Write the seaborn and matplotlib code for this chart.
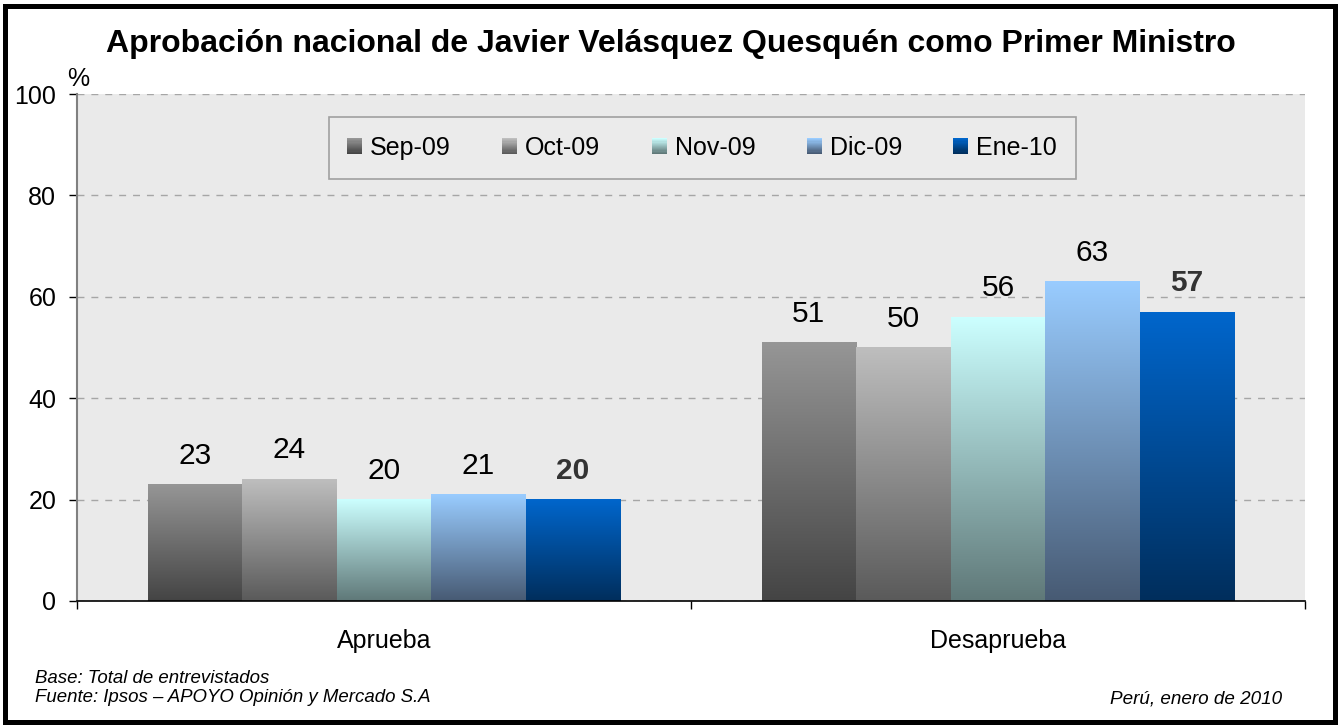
import numpy as np
import pandas as pd
import matplotlib
matplotlib.use("Agg")
import matplotlib.pyplot as plt
import seaborn as sns
from matplotlib.patches import Rectangle
from matplotlib.legend_handler import HandlerBase
from matplotlib.colors import to_rgb

# ---------------- data ----------------
categories = ["Aprueba", "Desaprueba"]
months = ["Sep-09", "Oct-09", "Nov-09", "Dic-09", "Ene-10"]
sep_09 = [23, 51]
oct_09 = [24, 50]
nov_09 = [20, 56]
dic_09 = [21, 63]
ene_10 = [20, 57]
series = [sep_09, oct_09, nov_09, dic_09, ene_10]
yticks = [0, 20, 40, 60, 80, 100]

# gradient colours (top, bottom) per month
top_colors = ["#969696", "#BEBEBE", "#CCFFFF", "#99CCFF", "#0066CC"]
bottom_colors = ["#444444", "#5A5A5A", "#5F7878", "#475A73", "#002E5C"]

df = pd.DataFrame({
    "Categoria": categories * len(months),
    "Mes": [m for m in months for _ in categories],
    "Valor": [v for s in series for v in s],
})

W, H = 1342, 725
fig = plt.figure(figsize=(W / 100, H / 100), dpi=100)
plt.rcParams["font.family"] = ["Liberation Sans", "DejaVu Sans"]

ax = fig.add_axes([77 / W, 1 - 601 / H, (1305 - 77) / W, (601 - 94) / H])
ax.set_facecolor("#EAEAEA")

sns.barplot(data=df, x="Categoria", y="Valor", hue="Mes", order=categories,
            hue_order=months, width=0.77, gap=0, legend=False, ax=ax,
            palette=top_colors, saturation=1, errorbar=None, zorder=2)

# gradient fill for each bar
def grad_img(top, bottom, n=256):
    t = np.linspace(0, 1, n)[:, None]
    tc, bc = np.array(to_rgb(top)), np.array(to_rgb(bottom))
    return (bc * (1 - t) + tc * t)[:, None, :]

for i, cont in enumerate(ax.containers):
    img = grad_img(top_colors[i], bottom_colors[i])
    for bar, val in zip(cont.patches, series[i]):
        x, w, h = bar.get_x(), bar.get_width(), bar.get_height()
        bar.set_facecolor("none")
        bar.set_edgecolor("none")
        ax.imshow(img, extent=[x, x + w, 0, h], aspect="auto", origin="lower",
                  zorder=2, interpolation="bilinear")
        bold = (i == len(months) - 1)
        ax.annotate(str(val), (x + w / 2, h), xytext=(0, 15), textcoords="offset points",
                    ha="center", va="baseline", fontsize=21.5,
                    fontweight="bold" if bold else "normal",
                    color="#333333" if bold else "black", zorder=5)

ax.set_xlim(-0.5, 1.5)
ax.set_ylim(0, 100)
ax.set_yticks(yticks)
ax.set_yticklabels([str(t) for t in yticks])
ax.grid(axis="y", linestyle=(0, (5, 5)), color="#A6A6A6", linewidth=1.0, zorder=1)
ax.grid(axis="x", visible=False)
ax.set_axisbelow(True)
ax.set_xlabel("")
ax.set_ylabel("")

for s in ["top", "right"]:
    ax.spines[s].set_visible(False)
ax.spines["left"].set_color("#808080")
ax.spines["left"].set_linewidth(1.5)
ax.spines["bottom"].set_color("black")
ax.spines["bottom"].set_linewidth(1.2)

ax.tick_params(axis="y", length=6, width=1, color="black", pad=9, labelsize=18)
ax.tick_params(axis="x", which="major", length=0, pad=20, labelsize=18)
ax.set_xticks([-0.5, 0.5, 1.5], minor=True)
ax.tick_params(axis="x", which="minor", length=6, width=1, color="black")

ax.annotate("%", (0, 1), xycoords="axes fraction", xytext=(1, 6),
            textcoords="offset points", ha="center", va="baseline", fontsize=18)

# legend with gradient handles
class GradHandler(HandlerBase):
    def __init__(self, top, bottom, n=14):
        super().__init__()
        self.top, self.bottom, self.n = np.array(to_rgb(top)), np.array(to_rgb(bottom)), n

    def create_artists(self, legend, orig_handle, xdescent, ydescent, width, height,
                       fontsize, trans):
        arts = []
        for k in range(self.n):
            t = k / (self.n - 1)
            c = self.bottom * (1 - t) + self.top * t
            arts.append(Rectangle((-xdescent, -ydescent + height * k / self.n), width,
                                  height / self.n + 0.02, facecolor=c, edgecolor="none",
                                  transform=trans))
        return arts

proxies = [Rectangle((0, 0), 1, 1) for _ in months]
hmap = {p: GradHandler(tc, bc) for p, tc, bc in zip(proxies, top_colors, bottom_colors)}
leg = ax.legend(proxies, months, handler_map=hmap, loc="upper center",
                bbox_to_anchor=(0.509, 0.9546), borderaxespad=0, ncol=5, fontsize=18,
                frameon=True, fancybox=False, handlelength=0.6, handleheight=0.6,
                handletextpad=0.32, columnspacing=2.05, borderpad=0.75)
leg.get_frame().set_facecolor("#EBEBEB")
leg.get_frame().set_edgecolor("#A0A0A0")
leg.get_frame().set_linewidth(1.2)
leg.get_frame().set_alpha(1)

# title and footer
fig.text(0.5, 1 - 52 / H, "Aprobación nacional de Javier Velásquez Quesquén como Primer Ministro",
         ha="center", va="baseline", fontsize=23, fontweight="bold")
fig.text(35 / W, 1 - 683 / H, "Base: Total de entrevistados", ha="left", va="baseline",
         fontsize=13.4, style="italic")
fig.text(35 / W, 1 - 702 / H, "Fuente: Ipsos – APOYO Opinión y Mercado S.A", ha="left",
         va="baseline", fontsize=13.4, style="italic")
fig.text(1282 / W, 1 - 703 / H, "Perú, enero de 2010", ha="right", va="baseline",
         fontsize=13.6, style="italic")

# outer border
fig.patches.append(Rectangle((5 / W, 3 / H), 1330 / W, (722 - 5.5) / H,
                             transform=fig.transFigure, fill=False, edgecolor="black",
                             linewidth=3.6, zorder=10))

fig.savefig("out.png", dpi=100, facecolor="white")
